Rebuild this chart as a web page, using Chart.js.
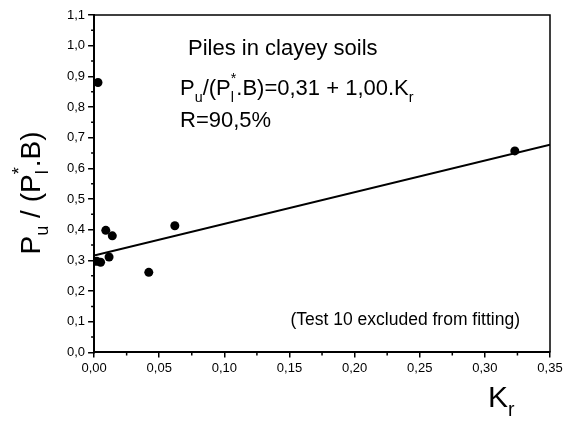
<!DOCTYPE html>
<html>
<head>
<meta charset="utf-8">
<script src="https://cdn.jsdelivr.net/npm/chart.js@4.4.1/dist/chart.umd.min.js"></script>
<style>
  html, body { margin: 0; padding: 0; background: #fff; }
</style>
</head>
<body>
<canvas id="chart" width="573" height="421"></canvas>
<script>
// measured piles (Kr, Pu/(Pl*.B))
const kr = [0.003, 0.002, 0.005, 0.009, 0.0115, 0.014, 0.042, 0.062, 0.323];
const pu = [0.88, 0.297, 0.294, 0.398, 0.311, 0.380, 0.261, 0.413, 0.657];

// fitted line end points
const fitKr = [0, 0.35];
const fitPu = [0.316, 0.677];

// axis ranges / tick steps
const xRange = [0, 0.35];
const yRange = [0, 1.1];
const xStep = 0.05;
const yStep = 0.1;

const FONT = "'Liberation Sans', Arial, Helvetica, sans-serif";

// draws text runs with sub / superscripts, returns width
function drawRuns(ctx, x, y, parts, size, measureOnly) {
    let x0 = x;
    parts.forEach(p => {
        const t = p[0], kind = p[1];
        if (!kind) {
            ctx.font = size + "px " + FONT;
            if (!measureOnly) ctx.fillText(t, x, y);
            x += ctx.measureText(t).width;
        } else if (kind === "sub") {
            ctx.font = (size * 0.65) + "px " + FONT;
            if (!measureOnly) ctx.fillText(t, x, y + size * 0.3);
            x += ctx.measureText(t).width;
        } else if (kind === "stack") {
            ctx.font = (size * 0.65) + "px " + FONT;
            const w1 = ctx.measureText(t[0]).width;
            const w2 = ctx.measureText(t[1]).width;
            if (!measureOnly) {
                ctx.fillText(t[0], x, y + size * 0.3);
                ctx.fillText(t[1], x, y - size * 0.55);
            }
            x += Math.max(w1, w2);
        }
    });
    return x - x0;
}

const decorations = {
    id: "decorations",
    afterDraw(chart) {
        const ctx = chart.ctx;
        const a = chart.chartArea;
        const xs = chart.scales.x, ys = chart.scales.y;
        ctx.save();
        ctx.strokeStyle = "#000";
        ctx.fillStyle = "#000";

        // top and right frame
        ctx.lineWidth = 1.5;
        ctx.beginPath();
        ctx.moveTo(a.left, a.top);
        ctx.lineTo(a.right, a.top);
        ctx.lineTo(a.right, a.bottom);
        ctx.stroke();

        // minor ticks
        ctx.lineWidth = 1.5;
        ctx.beginPath();
        for (let v = xStep / 2; v < xRange[1]; v += xStep) {
            const px = xs.getPixelForValue(v);
            ctx.moveTo(px, a.bottom);
            ctx.lineTo(px, a.bottom + 3);
        }
        for (let v = yStep / 2; v < yRange[1]; v += yStep) {
            const py = ys.getPixelForValue(v);
            ctx.moveTo(a.left, py);
            ctx.lineTo(a.left - 3, py);
        }
        ctx.stroke();

        ctx.textBaseline = "alphabetic";
        ctx.textAlign = "left";

        // annotations
        drawRuns(ctx, 188, 55, [["Piles in clayey soils"]], 22);
        drawRuns(ctx, 180, 95, [
            ["P"], ["u", "sub"], ["/(P"], [["l", "*"], "stack"],
            [".B)=0,31 + 1,00.K"], ["r", "sub"]
        ], 22);
        drawRuns(ctx, 180, 127, [["R=90,5%"]], 22);

        ctx.font = "17.5px " + FONT;
        ctx.textAlign = "right";
        ctx.fillText("(Test 10 excluded from fitting)", 520, 325);
        ctx.textAlign = "left";

        // x title
        drawRuns(ctx, 488, 407, [["K"], ["r", "sub"]], 30);

        // y title (rotated)
        const yParts = [["P"], ["u", "sub"], [" / (P"], [["l", "*"], "stack"], [".B)"]];
        const w = drawRuns(ctx, 0, 0, yParts, 28, true);
        ctx.translate(40, 193);
        ctx.rotate(-Math.PI / 2);
        drawRuns(ctx, -w / 2, 0, yParts, 28);

        ctx.restore();
    }
};

const points = kr.map((k, i) => ({ x: k, y: pu[i] }));
const fit = fitKr.map((k, i) => ({ x: k, y: fitPu[i] }));

new Chart(document.getElementById("chart"), {
    type: "scatter",
    data: {
        datasets: [
            {
                label: "fit",
                type: "line",
                data: fit,
                borderColor: "#000",
                borderWidth: 2,
                pointRadius: 0,
                fill: false
            },
            {
                label: "piles",
                data: points,
                backgroundColor: "#000",
                borderColor: "#000",
                pointRadius: 4.5,
                pointBorderWidth: 0
            }
        ]
    },
    options: {
        responsive: false,
        animation: false,
        devicePixelRatio: 1,
        layout: { padding: { left: 64, right: 23, top: 15, bottom: 42 } },
        plugins: { legend: { display: false }, tooltip: { enabled: false } },
        scales: {
            x: {
                type: "linear",
                min: xRange[0],
                max: xRange[1],
                ticks: {
                    stepSize: xStep,
                    color: "#000",
                    padding: 3,
                    font: { family: FONT, size: 13 },
                    callback: v => v.toFixed(2).replace(".", ",")
                },
                grid: { drawOnChartArea: false, drawTicks: true, tickLength: 5, color: "#000", lineWidth: 1.5 },
                border: { display: true, color: "#000", width: 2 }
            },
            y: {
                type: "linear",
                min: yRange[0],
                max: yRange[1],
                ticks: {
                    stepSize: yStep,
                    color: "#000",
                    padding: 3,
                    font: { family: FONT, size: 13 },
                    callback: v => v.toFixed(1).replace(".", ",")
                },
                grid: { drawOnChartArea: false, drawTicks: true, tickLength: 6, color: "#000", lineWidth: 1.5 },
                border: { display: true, color: "#000", width: 2 }
            }
        }
    },
    plugins: [decorations]
});
</script>
</body>
</html>
